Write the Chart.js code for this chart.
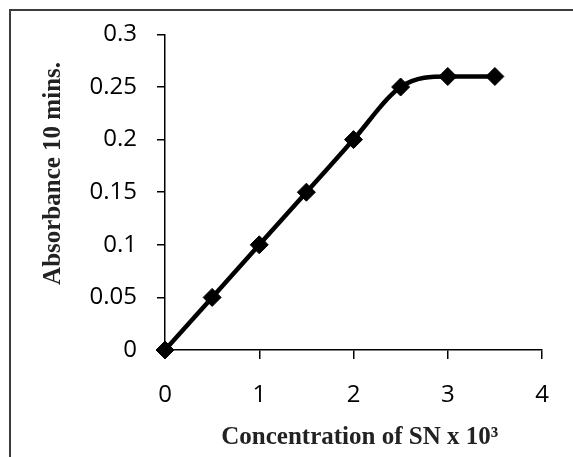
<!DOCTYPE html>
<html>
<head>
<meta charset="utf-8">
<script src="https://cdn.jsdelivr.net/npm/chart.js@4"></script>
<style>
  body { margin: 0; background: #fff; }
  #wrap { position: relative; width: 573px; height: 457px; overflow: hidden; }
  #frame { position: absolute; left: 9px; top: 9px; width: 700px; height: 600px;
           border-left: 2px solid #3c3c3c; border-top: 2px solid #3c3c3c; }
  canvas { position: absolute; left: 0; top: 0; }
</style>
</head>
<body>
<div id="wrap">
  <div id="frame"></div>
  <canvas id="myChart" width="573" height="457"></canvas>
</div>
<script>
// concentration of SN (x 10^3) and absorbance after 10 mins
const concentration = [0, 0.5, 1, 1.5, 2, 2.5, 3, 3.5];
const absorbance = [0, 0.05, 0.1, 0.15, 0.2, 0.25, 0.26, 0.26];

const xTickValues = [0, 1, 2, 3, 4];
const yTickValues = [0, 0.05, 0.1, 0.15, 0.2, 0.25, 0.3];
const yTickLabels = ["0", "0.05", "0.1", "0.15", "0.2", "0.25", "0.3"];

const points = concentration.map((c, i) => ({ x: c, y: absorbance[i] }));

const tickFont = { family: "'Open Sans', sans-serif", size: 24 };
const titleFont = { family: "'Liberation Serif', serif", size: 25, weight: "bold" };

const ctx = document.getElementById("myChart").getContext("2d");
const myChart = new Chart(ctx, {
  type: "line",
  data: {
    datasets: [
      {
        label: "Absorbance",
        data: points,
        borderColor: "#000",
        borderWidth: 4.5,
        cubicInterpolationMode: "monotone",
        pointStyle: "rectRot",
        pointRadius: 9,
        pointBackgroundColor: "#000",
        pointBorderColor: "#000",
        pointBorderWidth: 1,
        clip: false,
      },
    ],
  },
  options: {
    responsive: false,
    animation: false,
    layout: { padding: { top: 33, right: 31, left: 0, bottom: 0 } },
    plugins: { legend: { display: false }, tooltip: { enabled: false } },
    scales: {
      x: {
        type: "linear",
        min: 0,
        max: 4,
        afterFit: (scale) => { scale.height = 107; },
        afterBuildTicks: (scale) => {
          scale.ticks = xTickValues.map((v) => ({ value: v }));
        },
        ticks: { color: "#000", font: tickFont, padding: 22, maxRotation: 0 },
        grid: { drawOnChartArea: false, color: "#000", lineWidth: 1.5, tickLength: 9 },
        border: { color: "#000", width: 1.5 },
        title: {
          display: true,
          text: "  Concentration of SN x 10\u00B3",
          color: "#222",
          font: titleFont,
          padding: { top: 0, bottom: 4 },
        },
      },
      y: {
        min: 0,
        max: 0.3,
        afterFit: (scale) => { scale.width = 165; },
        afterBuildTicks: (scale) => {
          scale.ticks = yTickValues.map((v) => ({ value: v }));
        },
        ticks: {
          color: "#000",
          font: tickFont,
          padding: 20,
          callback: (value) => yTickLabels[yTickValues.findIndex((v) => Math.abs(v - value) < 1e-9)],
        },
        grid: { drawOnChartArea: false, color: "#000", lineWidth: 1.5, tickLength: 8 },
        border: { color: "#000", width: 1.5 },
        title: {
          display: true,
          text: "      Absorbance 10 mins.",
          color: "#222",
          font: titleFont,
          padding: { top: 39, bottom: 0 },
        },
      },
    },
  },
});
</script>
</body>
</html>
